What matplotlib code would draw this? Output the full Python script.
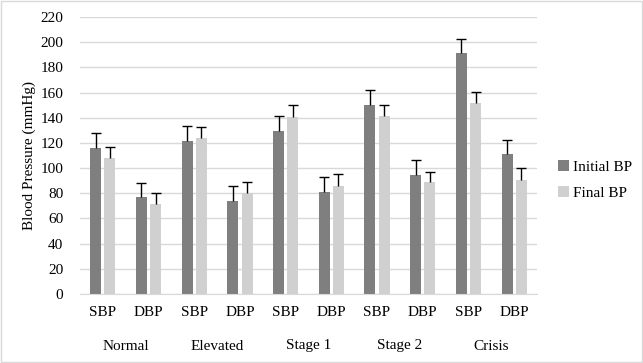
import matplotlib.pyplot as plt
from matplotlib.patches import Rectangle
import numpy as np

groups = ["Normal", "Elevated", "Stage 1", "Stage 2", "Crisis"]
measures = ["SBP", "DBP"]

initial_bp = [116, 77, 121.5, 74, 129.5, 81, 150, 94.5, 191.5, 111]
initial_err = [11.8, 11.2, 11.6, 11.6, 11.6, 11.6, 11.8, 11.7, 11.4, 11.6]
final_bp = [108, 71.5, 124, 80, 140.6, 85.8, 141.4, 89, 151.7, 90.5]
final_err = [8.8, 8.5, 8.6, 8.7, 9.3, 9.3, 8.5, 8.2, 8.5, 9.3]

plt.rcParams['font.family'] = ['Liberation Serif', 'DejaVu Serif']

fig = plt.figure(figsize=(6.43, 3.63), dpi=100)
ax = fig.add_axes([80 / 643, 1 - 294 / 363, 457 / 643, 277 / 363])

x = np.arange(len(initial_bp))
off = 0.155
w = 0.24
ax.bar(x - off, initial_bp, width=w, color='#7f7f7f', label='Initial BP', zorder=2)
ax.bar(x + off, final_bp, width=w, color='#d0d0d0', label='Final BP', zorder=2)
for xs, vals, errs in [(x - off, initial_bp, initial_err), (x + off, final_bp, final_err)]:
    eb = ax.errorbar(xs, vals, yerr=[np.zeros(len(x)), errs], fmt='none',
                     ecolor='black', elinewidth=1, capsize=3.5, capthick=1, zorder=3)
    # only keep the cap on top
    eb[1][0].set_visible(False)

ax.set_xlim(-0.5, len(x) - 0.5)
ax.set_ylim(0, 220)
ax.set_yticks(range(0, 221, 20))
ax.yaxis.grid(True, color='#d9d9d9', linewidth=1, zorder=0)
ax.set_axisbelow(True)
for s in ['top', 'right', 'left']:
    ax.spines[s].set_visible(False)
ax.spines['bottom'].set_color('#d9d9d9')
ax.tick_params(axis='y', length=0, pad=12, labelsize=11)
ax.tick_params(axis='x', length=0, pad=9, labelsize=11)
ax.set_xticks(x)
ax.set_xticklabels(measures * len(groups))
ax.set_ylabel('Blood Pressure (mmHg)', fontsize=11, labelpad=3)

trans = ax.get_xaxis_transform()
for i, g in enumerate(groups):
    ax.text(2 * i + 0.5, -52 / 277, g, transform=trans, ha='center', va='center', fontsize=11)

fig.legend(loc='center left', bbox_to_anchor=(558 / 643, 1 - 180 / 363), frameon=False,
           fontsize=11, handlelength=0.7, handleheight=0.7, handletextpad=0.3,
           labelspacing=0.85, borderpad=0, borderaxespad=0)

fig.patches.append(Rectangle((0.002, 0.003), 0.996, 0.994, transform=fig.transFigure,
                             fill=False, edgecolor='#d9d9d9', linewidth=1))

fig.savefig('out.png', dpi=100)
